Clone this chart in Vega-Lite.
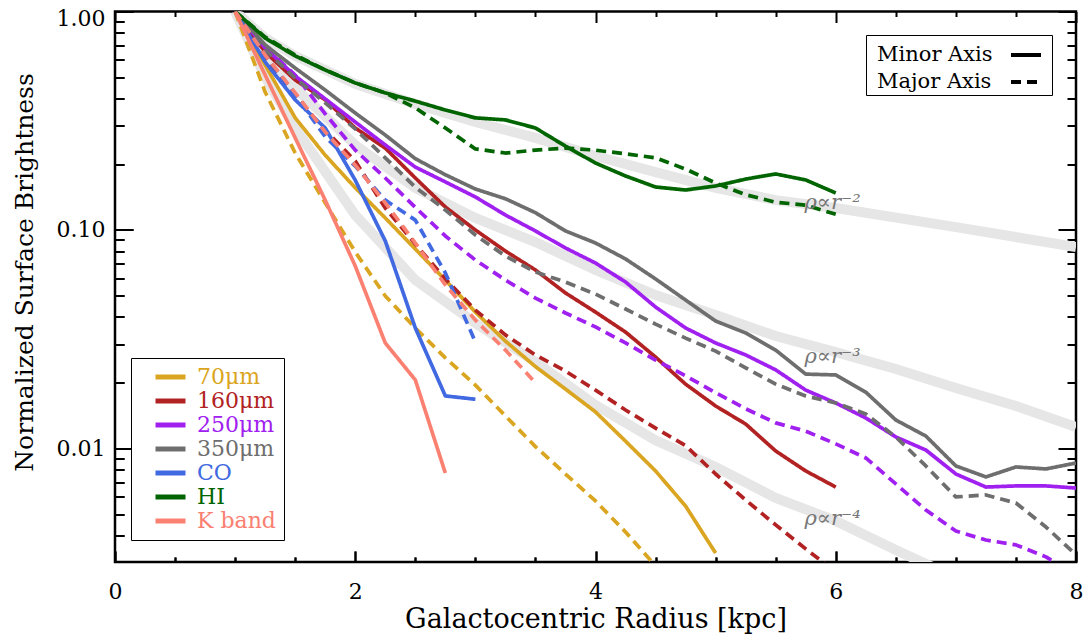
{
  "$schema": "https://vega.github.io/schema/vega-lite/v6.json",
  "width": 961,
  "height": 550.5,
  "autosize": {"type": "none"},
  "padding": {"left": 115, "top": 11.5, "right": 7, "bottom": 75},
  "background": "white",
  "config": {
    "view": {"stroke": "black", "strokeWidth": 2.5},
    "font": "DejaVu Serif",
    "axis": {"grid": false, "domain": false, "zindex": 1, "tickColor": "black", "tickWidth": 2, "gridColor": "black", "gridWidth": 2, "gridOpacity": 1, "labelColor": "black", "titleColor": "black", "labelFont": "DejaVu Serif", "titleFont": "DejaVu Serif", "titleFontWeight": "normal", "labelFontWeight": "normal"},
    "legend": {"labelFont": "DejaVu Serif"}
  },
  "datasets": {
    "lines": [
      {"band":"70μm","axis":"Minor Axis","r":1,"sb":1},{"band":"70μm","axis":"Minor Axis","r":1.25,"sb":0.569},{"band":"70μm","axis":"Minor Axis","r":1.5,"sb":0.326},{"band":"70μm","axis":"Minor Axis","r":1.75,"sb":0.22},{"band":"70μm","axis":"Minor Axis","r":2,"sb":0.156},{"band":"70μm","axis":"Minor Axis","r":2.25,"sb":0.1135},{"band":"70μm","axis":"Minor Axis","r":2.5,"sb":0.0818},{"band":"70μm","axis":"Minor Axis","r":2.75,"sb":0.059},{"band":"70μm","axis":"Minor Axis","r":3,"sb":0.0421},{"band":"70μm","axis":"Minor Axis","r":3.25,"sb":0.031},{"band":"70μm","axis":"Minor Axis","r":3.5,"sb":0.0237},{"band":"70μm","axis":"Minor Axis","r":3.75,"sb":0.0187},{"band":"70μm","axis":"Minor Axis","r":4,"sb":0.0147},{"band":"70μm","axis":"Minor Axis","r":4.25,"sb":0.0108},{"band":"70μm","axis":"Minor Axis","r":4.5,"sb":0.00789},{"band":"70μm","axis":"Minor Axis","r":4.75,"sb":0.00545},{"band":"70μm","axis":"Minor Axis","r":5,"sb":0.00332},
      {"band":"70μm","axis":"Major Axis","r":1,"sb":1},{"band":"70μm","axis":"Major Axis","r":1.25,"sb":0.428},{"band":"70μm","axis":"Major Axis","r":1.5,"sb":0.225},{"band":"70μm","axis":"Major Axis","r":1.75,"sb":0.133},{"band":"70μm","axis":"Major Axis","r":2,"sb":0.0793},{"band":"70μm","axis":"Major Axis","r":2.25,"sb":0.0499},{"band":"70μm","axis":"Major Axis","r":2.5,"sb":0.0356},{"band":"70μm","axis":"Major Axis","r":2.75,"sb":0.026},{"band":"70μm","axis":"Major Axis","r":3,"sb":0.0195},{"band":"70μm","axis":"Major Axis","r":3.25,"sb":0.0141},{"band":"70μm","axis":"Major Axis","r":3.5,"sb":0.0102},{"band":"70μm","axis":"Major Axis","r":3.75,"sb":0.00764},{"band":"70μm","axis":"Major Axis","r":4,"sb":0.00575},{"band":"70μm","axis":"Major Axis","r":4.25,"sb":0.00415},{"band":"70μm","axis":"Major Axis","r":4.5,"sb":0.0029},
      {"band":"160μm","axis":"Minor Axis","r":1,"sb":1},{"band":"160μm","axis":"Minor Axis","r":1.25,"sb":0.653},{"band":"160μm","axis":"Minor Axis","r":1.5,"sb":0.486},{"band":"160μm","axis":"Minor Axis","r":1.75,"sb":0.394},{"band":"160μm","axis":"Minor Axis","r":2,"sb":0.293},{"band":"160μm","axis":"Minor Axis","r":2.25,"sb":0.237},{"band":"160μm","axis":"Minor Axis","r":2.5,"sb":0.173},{"band":"160μm","axis":"Minor Axis","r":2.75,"sb":0.1274},{"band":"160μm","axis":"Minor Axis","r":3,"sb":0.1},{"band":"160μm","axis":"Minor Axis","r":3.25,"sb":0.0801},{"band":"160μm","axis":"Minor Axis","r":3.5,"sb":0.0656},{"band":"160μm","axis":"Minor Axis","r":3.75,"sb":0.0515},{"band":"160μm","axis":"Minor Axis","r":4,"sb":0.0421},{"band":"160μm","axis":"Minor Axis","r":4.25,"sb":0.0341},{"band":"160μm","axis":"Minor Axis","r":4.5,"sb":0.0262},{"band":"160μm","axis":"Minor Axis","r":4.75,"sb":0.0197},{"band":"160μm","axis":"Minor Axis","r":5,"sb":0.01565},{"band":"160μm","axis":"Minor Axis","r":5.25,"sb":0.01294},{"band":"160μm","axis":"Minor Axis","r":5.5,"sb":0.00974},{"band":"160μm","axis":"Minor Axis","r":5.75,"sb":0.00789},{"band":"160μm","axis":"Minor Axis","r":6,"sb":0.00666},
      {"band":"160μm","axis":"Major Axis","r":1,"sb":1},{"band":"160μm","axis":"Major Axis","r":1.25,"sb":0.613},{"band":"160μm","axis":"Major Axis","r":1.5,"sb":0.41},{"band":"160μm","axis":"Major Axis","r":1.75,"sb":0.287},{"band":"160μm","axis":"Major Axis","r":2,"sb":0.207},{"band":"160μm","axis":"Major Axis","r":2.25,"sb":0.126},{"band":"160μm","axis":"Major Axis","r":2.5,"sb":0.0863},{"band":"160μm","axis":"Major Axis","r":2.75,"sb":0.0597},{"band":"160μm","axis":"Major Axis","r":3,"sb":0.043},{"band":"160μm","axis":"Major Axis","r":3.25,"sb":0.0331},{"band":"160μm","axis":"Major Axis","r":3.5,"sb":0.0268},{"band":"160μm","axis":"Major Axis","r":3.75,"sb":0.0226},{"band":"160μm","axis":"Major Axis","r":4,"sb":0.0185},{"band":"160μm","axis":"Major Axis","r":4.25,"sb":0.015},{"band":"160μm","axis":"Major Axis","r":4.5,"sb":0.0124},{"band":"160μm","axis":"Major Axis","r":4.75,"sb":0.0103},{"band":"160μm","axis":"Major Axis","r":5,"sb":0.00764},{"band":"160μm","axis":"Major Axis","r":5.25,"sb":0.00581},{"band":"160μm","axis":"Major Axis","r":5.5,"sb":0.00447},{"band":"160μm","axis":"Major Axis","r":5.75,"sb":0.00347},{"band":"160μm","axis":"Major Axis","r":6,"sb":0.00272},
      {"band":"250μm","axis":"Minor Axis","r":1,"sb":1},{"band":"250μm","axis":"Minor Axis","r":1.25,"sb":0.681},{"band":"250μm","axis":"Minor Axis","r":1.5,"sb":0.507},{"band":"250μm","axis":"Minor Axis","r":1.75,"sb":0.398},{"band":"250μm","axis":"Minor Axis","r":2,"sb":0.312},{"band":"250μm","axis":"Minor Axis","r":2.25,"sb":0.245},{"band":"250μm","axis":"Minor Axis","r":2.5,"sb":0.194},{"band":"250μm","axis":"Minor Axis","r":2.75,"sb":0.166},{"band":"250μm","axis":"Minor Axis","r":3,"sb":0.1416},{"band":"250μm","axis":"Minor Axis","r":3.25,"sb":0.1171},{"band":"250μm","axis":"Minor Axis","r":3.5,"sb":0.099},{"band":"250μm","axis":"Minor Axis","r":3.75,"sb":0.0827},{"band":"250μm","axis":"Minor Axis","r":4,"sb":0.0706},{"band":"250μm","axis":"Minor Axis","r":4.25,"sb":0.0578},{"band":"250μm","axis":"Minor Axis","r":4.5,"sb":0.0444},{"band":"250μm","axis":"Minor Axis","r":4.75,"sb":0.0356},{"band":"250μm","axis":"Minor Axis","r":5,"sb":0.0304},{"band":"250μm","axis":"Minor Axis","r":5.25,"sb":0.0268},{"band":"250μm","axis":"Minor Axis","r":5.5,"sb":0.0229},{"band":"250μm","axis":"Minor Axis","r":5.75,"sb":0.0185},{"band":"250μm","axis":"Minor Axis","r":6,"sb":0.01615},{"band":"250μm","axis":"Minor Axis","r":6.25,"sb":0.01379},{"band":"250μm","axis":"Minor Axis","r":6.5,"sb":0.01129},{"band":"250μm","axis":"Minor Axis","r":6.75,"sb":0.00984},{"band":"250μm","axis":"Minor Axis","r":7,"sb":0.00764},{"band":"250μm","axis":"Minor Axis","r":7.25,"sb":0.00666},{"band":"250μm","axis":"Minor Axis","r":7.5,"sb":0.00674},{"band":"250μm","axis":"Minor Axis","r":7.75,"sb":0.00674},{"band":"250μm","axis":"Minor Axis","r":8,"sb":0.00659},
      {"band":"250μm","axis":"Major Axis","r":1,"sb":1},{"band":"250μm","axis":"Major Axis","r":1.25,"sb":0.688},{"band":"250μm","axis":"Major Axis","r":1.5,"sb":0.512},{"band":"250μm","axis":"Major Axis","r":1.75,"sb":0.34},{"band":"250μm","axis":"Major Axis","r":2,"sb":0.232},{"band":"250μm","axis":"Major Axis","r":2.25,"sb":0.173},{"band":"250μm","axis":"Major Axis","r":2.5,"sb":0.127},{"band":"250μm","axis":"Major Axis","r":2.75,"sb":0.0939},{"band":"250μm","axis":"Major Axis","r":3,"sb":0.0729},{"band":"250μm","axis":"Major Axis","r":3.25,"sb":0.059},{"band":"250μm","axis":"Major Axis","r":3.5,"sb":0.0488},{"band":"250μm","axis":"Major Axis","r":3.75,"sb":0.0417},{"band":"250μm","axis":"Major Axis","r":4,"sb":0.036},{"band":"250μm","axis":"Major Axis","r":4.25,"sb":0.0304},{"band":"250μm","axis":"Major Axis","r":4.5,"sb":0.0254},{"band":"250μm","axis":"Major Axis","r":4.75,"sb":0.0215},{"band":"250μm","axis":"Major Axis","r":5,"sb":0.018},{"band":"250μm","axis":"Major Axis","r":5.25,"sb":0.0152},{"band":"250μm","axis":"Major Axis","r":5.5,"sb":0.0131},{"band":"250μm","axis":"Major Axis","r":5.75,"sb":0.012},{"band":"250μm","axis":"Major Axis","r":6,"sb":0.0105},{"band":"250μm","axis":"Major Axis","r":6.25,"sb":0.00905},{"band":"250μm","axis":"Major Axis","r":6.5,"sb":0.00688},{"band":"250μm","axis":"Major Axis","r":6.75,"sb":0.00523},{"band":"250μm","axis":"Major Axis","r":7,"sb":0.00419},{"band":"250μm","axis":"Major Axis","r":7.25,"sb":0.00381},{"band":"250μm","axis":"Major Axis","r":7.5,"sb":0.00362},{"band":"250μm","axis":"Major Axis","r":7.75,"sb":0.00319},{"band":"250μm","axis":"Major Axis","r":8,"sb":0.00264},
      {"band":"350μm","axis":"Minor Axis","r":1,"sb":1},{"band":"350μm","axis":"Minor Axis","r":1.25,"sb":0.703},{"band":"350μm","axis":"Minor Axis","r":1.5,"sb":0.551},{"band":"350μm","axis":"Minor Axis","r":1.75,"sb":0.437},{"band":"350μm","axis":"Minor Axis","r":2,"sb":0.343},{"band":"350μm","axis":"Minor Axis","r":2.25,"sb":0.272},{"band":"350μm","axis":"Minor Axis","r":2.5,"sb":0.212},{"band":"350μm","axis":"Minor Axis","r":2.75,"sb":0.179},{"band":"350μm","axis":"Minor Axis","r":3,"sb":0.154},{"band":"350μm","axis":"Minor Axis","r":3.25,"sb":0.139},{"band":"350μm","axis":"Minor Axis","r":3.5,"sb":0.12},{"band":"350μm","axis":"Minor Axis","r":3.75,"sb":0.099},{"band":"350μm","axis":"Minor Axis","r":4,"sb":0.0872},{"band":"350μm","axis":"Minor Axis","r":4.25,"sb":0.0737},{"band":"350μm","axis":"Minor Axis","r":4.5,"sb":0.0597},{"band":"350μm","axis":"Minor Axis","r":4.75,"sb":0.0478},{"band":"350μm","axis":"Minor Axis","r":5,"sb":0.0383},{"band":"350μm","axis":"Minor Axis","r":5.25,"sb":0.0338},{"band":"350μm","axis":"Minor Axis","r":5.5,"sb":0.0282},{"band":"350μm","axis":"Minor Axis","r":5.75,"sb":0.0219},{"band":"350μm","axis":"Minor Axis","r":6,"sb":0.0217},{"band":"350μm","axis":"Minor Axis","r":6.25,"sb":0.0181},{"band":"350μm","axis":"Minor Axis","r":6.5,"sb":0.0135},{"band":"350μm","axis":"Minor Axis","r":6.75,"sb":0.0114},{"band":"350μm","axis":"Minor Axis","r":7,"sb":0.00832},{"band":"350μm","axis":"Minor Axis","r":7.25,"sb":0.00741},{"band":"350μm","axis":"Minor Axis","r":7.5,"sb":0.00823},{"band":"350μm","axis":"Minor Axis","r":7.75,"sb":0.00806},{"band":"350μm","axis":"Minor Axis","r":8,"sb":0.00858},
      {"band":"350μm","axis":"Major Axis","r":1,"sb":1},{"band":"350μm","axis":"Major Axis","r":1.25,"sb":0.667},{"band":"350μm","axis":"Major Axis","r":1.5,"sb":0.496},{"band":"350μm","axis":"Major Axis","r":1.75,"sb":0.382},{"band":"350μm","axis":"Major Axis","r":2,"sb":0.29},{"band":"350μm","axis":"Major Axis","r":2.25,"sb":0.214},{"band":"350μm","axis":"Major Axis","r":2.5,"sb":0.157},{"band":"350μm","axis":"Major Axis","r":2.75,"sb":0.1235},{"band":"350μm","axis":"Major Axis","r":3,"sb":0.0949},{"band":"350μm","axis":"Major Axis","r":3.25,"sb":0.076},{"band":"350μm","axis":"Major Axis","r":3.5,"sb":0.0642},{"band":"350μm","axis":"Major Axis","r":3.75,"sb":0.0578},{"band":"350μm","axis":"Major Axis","r":4,"sb":0.0509},{"band":"350μm","axis":"Major Axis","r":4.25,"sb":0.0435},{"band":"350μm","axis":"Major Axis","r":4.5,"sb":0.0371},{"band":"350μm","axis":"Major Axis","r":4.75,"sb":0.032},{"band":"350μm","axis":"Major Axis","r":5,"sb":0.0279},{"band":"350μm","axis":"Major Axis","r":5.25,"sb":0.0234},{"band":"350μm","axis":"Major Axis","r":5.5,"sb":0.0197},{"band":"350μm","axis":"Major Axis","r":5.75,"sb":0.0174},{"band":"350μm","axis":"Major Axis","r":6,"sb":0.01615},{"band":"350μm","axis":"Major Axis","r":6.25,"sb":0.01438},{"band":"350μm","axis":"Major Axis","r":6.5,"sb":0.01129},{"band":"350μm","axis":"Major Axis","r":6.75,"sb":0.00832},{"band":"350μm","axis":"Major Axis","r":7,"sb":0.006},{"band":"350μm","axis":"Major Axis","r":7.25,"sb":0.00613},{"band":"350μm","axis":"Major Axis","r":7.5,"sb":0.00563},{"band":"350μm","axis":"Major Axis","r":7.75,"sb":0.00437},{"band":"350μm","axis":"Major Axis","r":8,"sb":0.00326},
      {"band":"CO","axis":"Minor Axis","r":1,"sb":1},{"band":"CO","axis":"Minor Axis","r":1.25,"sb":0.587},{"band":"CO","axis":"Minor Axis","r":1.5,"sb":0.394},{"band":"CO","axis":"Minor Axis","r":1.75,"sb":0.293},{"band":"CO","axis":"Minor Axis","r":2,"sb":0.169},{"band":"CO","axis":"Minor Axis","r":2.25,"sb":0.0891},{"band":"CO","axis":"Minor Axis","r":2.5,"sb":0.0356},{"band":"CO","axis":"Minor Axis","r":2.75,"sb":0.0174},{"band":"CO","axis":"Minor Axis","r":3,"sb":0.0168},
      {"band":"CO","axis":"Major Axis","r":1,"sb":1},{"band":"CO","axis":"Major Axis","r":1.25,"sb":0.632},{"band":"CO","axis":"Major Axis","r":1.5,"sb":0.415},{"band":"CO","axis":"Major Axis","r":1.75,"sb":0.267},{"band":"CO","axis":"Major Axis","r":2,"sb":0.196},{"band":"CO","axis":"Major Axis","r":2.25,"sb":0.137},{"band":"CO","axis":"Major Axis","r":2.5,"sb":0.111},{"band":"CO","axis":"Major Axis","r":2.75,"sb":0.0636},{"band":"CO","axis":"Major Axis","r":3,"sb":0.0307},
      {"band":"HI","axis":"Minor Axis","r":1,"sb":1},{"band":"HI","axis":"Minor Axis","r":1.25,"sb":0.756},{"band":"HI","axis":"Minor Axis","r":1.5,"sb":0.626},{"band":"HI","axis":"Minor Axis","r":1.75,"sb":0.54},{"band":"HI","axis":"Minor Axis","r":2,"sb":0.471},{"band":"HI","axis":"Minor Axis","r":2.25,"sb":0.424},{"band":"HI","axis":"Minor Axis","r":2.5,"sb":0.389},{"band":"HI","axis":"Minor Axis","r":2.75,"sb":0.354},{"band":"HI","axis":"Minor Axis","r":3,"sb":0.326},{"band":"HI","axis":"Minor Axis","r":3.25,"sb":0.319},{"band":"HI","axis":"Minor Axis","r":3.5,"sb":0.293},{"band":"HI","axis":"Minor Axis","r":3.75,"sb":0.242},{"band":"HI","axis":"Minor Axis","r":4,"sb":0.2025},{"band":"HI","axis":"Minor Axis","r":4.25,"sb":0.1767},{"band":"HI","axis":"Minor Axis","r":4.5,"sb":0.1573},{"band":"HI","axis":"Minor Axis","r":4.75,"sb":0.1524},{"band":"HI","axis":"Minor Axis","r":5,"sb":0.159},{"band":"HI","axis":"Minor Axis","r":5.25,"sb":0.171},{"band":"HI","axis":"Minor Axis","r":5.5,"sb":0.1805},{"band":"HI","axis":"Minor Axis","r":5.75,"sb":0.1694},{"band":"HI","axis":"Minor Axis","r":6,"sb":0.1477},
      {"band":"HI","axis":"Major Axis","r":1,"sb":1},{"band":"HI","axis":"Major Axis","r":1.25,"sb":0.764},{"band":"HI","axis":"Major Axis","r":1.5,"sb":0.632},{"band":"HI","axis":"Major Axis","r":1.75,"sb":0.54},{"band":"HI","axis":"Major Axis","r":2,"sb":0.471},{"band":"HI","axis":"Major Axis","r":2.25,"sb":0.424},{"band":"HI","axis":"Major Axis","r":2.5,"sb":0.362},{"band":"HI","axis":"Major Axis","r":2.75,"sb":0.293},{"band":"HI","axis":"Major Axis","r":3,"sb":0.235},{"band":"HI","axis":"Major Axis","r":3.25,"sb":0.225},{"band":"HI","axis":"Major Axis","r":3.5,"sb":0.232},{"band":"HI","axis":"Major Axis","r":3.75,"sb":0.237},{"band":"HI","axis":"Major Axis","r":4,"sb":0.232},{"band":"HI","axis":"Major Axis","r":4.25,"sb":0.223},{"band":"HI","axis":"Major Axis","r":4.5,"sb":0.214},{"band":"HI","axis":"Major Axis","r":4.75,"sb":0.19},{"band":"HI","axis":"Major Axis","r":5,"sb":0.164},{"band":"HI","axis":"Major Axis","r":5.25,"sb":0.145},{"band":"HI","axis":"Major Axis","r":5.5,"sb":0.134},{"band":"HI","axis":"Major Axis","r":5.75,"sb":0.13},{"band":"HI","axis":"Major Axis","r":6,"sb":0.118},
      {"band":"K band","axis":"Minor Axis","r":1,"sb":1},{"band":"K band","axis":"Minor Axis","r":1.25,"sb":0.512},{"band":"K band","axis":"Minor Axis","r":1.5,"sb":0.264},{"band":"K band","axis":"Minor Axis","r":1.75,"sb":0.137},{"band":"K band","axis":"Minor Axis","r":2,"sb":0.0684},{"band":"K band","axis":"Minor Axis","r":2.25,"sb":0.0304},{"band":"K band","axis":"Minor Axis","r":2.5,"sb":0.0206},{"band":"K band","axis":"Minor Axis","r":2.75,"sb":0.00772},
      {"band":"K band","axis":"Major Axis","r":1,"sb":1},{"band":"K band","axis":"Major Axis","r":1.25,"sb":0.632},{"band":"K band","axis":"Major Axis","r":1.5,"sb":0.424},{"band":"K band","axis":"Major Axis","r":1.75,"sb":0.281},{"band":"K band","axis":"Major Axis","r":2,"sb":0.198},{"band":"K band","axis":"Major Axis","r":2.25,"sb":0.133},{"band":"K band","axis":"Major Axis","r":2.5,"sb":0.0872},{"band":"K band","axis":"Major Axis","r":2.75,"sb":0.056},{"band":"K band","axis":"Major Axis","r":3,"sb":0.0387},{"band":"K band","axis":"Major Axis","r":3.25,"sb":0.0282},{"band":"K band","axis":"Major Axis","r":3.5,"sb":0.02}
    ],
    "refs": [
      {"ref":"r-2","r":1,"sb":1},{"ref":"r-2","r":1.25,"sb":0.756},{"ref":"r-2","r":1.5,"sb":0.626},{"ref":"r-2","r":2,"sb":0.466},{"ref":"r-2","r":2.5,"sb":0.377},{"ref":"r-2","r":3,"sb":0.312},{"ref":"r-2","r":3.5,"sb":0.264},{"ref":"r-2","r":4,"sb":0.218},{"ref":"r-2","r":4.5,"sb":0.184},{"ref":"r-2","r":5,"sb":0.156},{"ref":"r-2","r":5.5,"sb":0.137},{"ref":"r-2","r":6,"sb":0.126},{"ref":"r-2","r":7,"sb":0.103},{"ref":"r-2","r":8,"sb":0.0836},
      {"ref":"r-3","r":1,"sb":1},{"ref":"r-3","r":1.25,"sb":0.632},{"ref":"r-3","r":1.5,"sb":0.4466},{"ref":"r-3","r":2,"sb":0.2449},{"ref":"r-3","r":2.5,"sb":0.1557},{"ref":"r-3","r":3,"sb":0.1135},{"ref":"r-3","r":3.5,"sb":0.0881},{"ref":"r-3","r":4,"sb":0.0656},{"ref":"r-3","r":4.5,"sb":0.0504},{"ref":"r-3","r":5,"sb":0.0408},{"ref":"r-3","r":5.5,"sb":0.0327},{"ref":"r-3","r":6,"sb":0.0276},{"ref":"r-3","r":6.5,"sb":0.0231},{"ref":"r-3","r":7,"sb":0.0189},{"ref":"r-3","r":7.5,"sb":0.01565},{"ref":"r-3","r":8,"sb":0.01254},
      {"ref":"r-4","r":1,"sb":1},{"ref":"r-4","r":1.25,"sb":0.5014},{"ref":"r-4","r":1.5,"sb":0.293},{"ref":"r-4","r":2,"sb":0.1171},{"ref":"r-4","r":2.5,"sb":0.059},{"ref":"r-4","r":3,"sb":0.0375},{"ref":"r-4","r":3.5,"sb":0.0249},{"ref":"r-4","r":4,"sb":0.0158},{"ref":"r-4","r":4.5,"sb":0.0109},{"ref":"r-4","r":5,"sb":0.00823},{"ref":"r-4","r":5.5,"sb":0.00594},{"ref":"r-4","r":6,"sb":0.00466},{"ref":"r-4","r":6.5,"sb":0.00343},{"ref":"r-4","r":7,"sb":0.00256}
    ],
    "notes": [
      {"label":"ρ∝r⁻²","r":5.74,"sb":0.1329},
      {"label":"ρ∝r⁻³","r":5.74,"sb":0.0262},
      {"label":"ρ∝r⁻⁴","r":5.74,"sb":0.00476}
    ]
  },
  "layer": [
    {
      "data": {"name": "refs"},
      "mark": {"type": "line", "color": "#e6e6e6", "strokeWidth": 10, "clip": true, "strokeCap": "butt"},
      "encoding": {
        "x": {"field": "r", "type": "quantitative", "scale": {"domain": [0, 8], "nice": false, "zero": false},
          "axis": {"orient": "bottom", "values": [0, 2, 4, 6, 8], "format": "d", "offset": -11, "tickSize": 11, "grid": true, "gridDash": [11, 528.5, 11, 0], "labelPadding": 19, "labelFontSize": 22, "labelFlush": false, "labelOverlap": false, "title": "Galactocentric Radius [kpc]", "titleFontSize": 27, "titlePadding": 4}},
        "y": {"field": "sb", "type": "quantitative", "scale": {"type": "log", "domain": [0.003023, 1], "nice": false},
          "axis": {"orient": "left", "values": [0.01, 0.1, 1], "format": ".2f", "offset": -18, "tickSize": 18, "grid": true, "gridDash": [18, 925, 18, 0], "labelPadding": 10, "labelFontSize": 22, "labelFlush": true, "labelFlushOffset": 3, "labelOverlap": false, "title": "Normalized Surface Brightness", "titleFontSize": 25, "titlePadding": 19, "titleY": 260.5}},
        "detail": {"field": "ref", "type": "nominal"}
      }
    },
    {
      "data": {"name": "lines"},
      "mark": {"type": "line", "strokeWidth": 3.7, "clip": true, "strokeCap": "butt", "strokeJoin": "round"},
      "encoding": {
        "x": {"field": "r", "type": "quantitative", "scale": {"domain": [0, 8], "nice": false, "zero": false},
          "axis": {"orient": "bottom", "values": [0.5, 1, 1.5, 2.5, 3, 3.5, 4.5, 5, 5.5, 6.5, 7, 7.5], "offset": -5, "tickSize": 5, "grid": true, "gridDash": [5, 540.5, 5, 0], "labels": false, "title": null}},
        "y": {"field": "sb", "type": "quantitative", "scale": {"type": "log", "domain": [0.003023, 1], "nice": false},
          "axis": {"orient": "left", "values": [0.004, 0.005, 0.006, 0.007, 0.008, 0.009, 0.02, 0.03, 0.04, 0.05, 0.06, 0.07, 0.08, 0.09, 0.2, 0.3, 0.4, 0.5, 0.6, 0.7, 0.8, 0.9], "offset": -9, "tickSize": 9, "grid": true, "gridDash": [9, 943, 9, 0], "labels": false, "title": null}},
        "color": {"field": "band", "type": "nominal",
          "scale": {"domain": ["70μm", "160μm", "250μm", "350μm", "CO", "HI", "K band"], "range": ["#DAA520", "#B22222", "#A020F0", "#6E6E6E", "#4169E1", "#006400", "#FA8072"]},
          "legend": {"title": null, "orient": "none", "legendX": 16, "legendY": 346.5, "symbolType": "stroke", "symbolSize": 900, "symbolStrokeWidth": 5, "symbolOffset": 14, "labelOffset": 9, "labelFontSize": 22, "padding": 8, "clipHeight": 22, "rowPadding": 2, "strokeColor": "black", "fillColor": "white", "labelLimit": 300,
            "encode": {"labels": {"update": {"fill": {"scale": "color", "field": "value"}}}}}},
        "strokeDash": {"field": "axis", "type": "nominal",
          "scale": {"domain": ["Minor Axis", "Major Axis"], "range": [[1, 0], [10, 6]]},
          "legend": {"title": null, "orient": "none", "legendX": 751, "legendY": 23.5, "symbolType": "stroke", "symbolSize": 900, "symbolStrokeWidth": 4, "symbolStrokeColor": "black", "symbolOffset": 140, "labelOffset": -166, "labelFontSize": 21, "labelColor": "black", "padding": 3, "rowPadding": -1, "strokeColor": "black", "fillColor": "white", "labelLimit": 400,
            "encode": {"symbols": {"update": {"stroke": {"value": "black"}}}}}}
      }
    },
    {
      "data": {"name": "notes"},
      "mark": {"type": "text", "font": "DejaVu Serif", "fontStyle": "italic", "fontSize": 21, "color": "#777777", "align": "left", "baseline": "middle"},
      "encoding": {
        "x": {"field": "r", "type": "quantitative", "scale": {"domain": [0, 8], "nice": false, "zero": false}, "axis": null},
        "y": {"field": "sb", "type": "quantitative", "scale": {"type": "log", "domain": [0.003023, 1], "nice": false}, "axis": null},
        "text": {"field": "label", "type": "nominal"}
      }
    }
  ],
  "resolve": {"axis": {"x": "independent", "y": "independent"}}
}
